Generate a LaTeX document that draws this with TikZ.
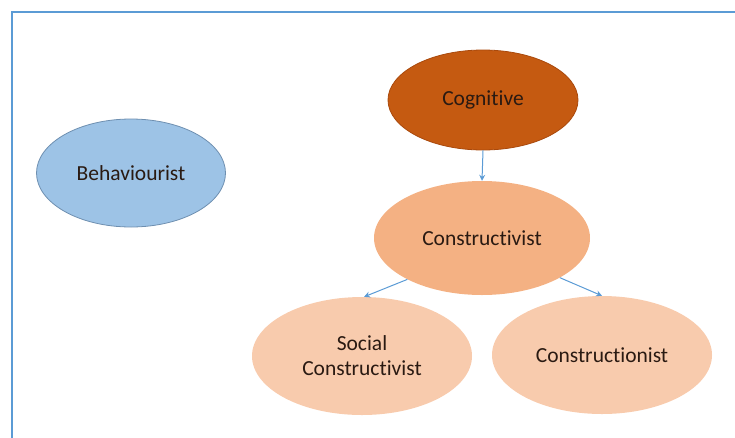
\documentclass[tikz,border=0pt]{standalone}
\usepackage{fontspec}
\setmainfont[Ligatures={NoCommon,NoRequired,NoContextual}]{Carlito}
\usetikzlibrary{shapes.geometric,arrows.meta}
\definecolor{frameblue}{HTML}{5B9BD5}
\definecolor{cogfill}{HTML}{C55A11}
\definecolor{cogline}{HTML}{A9490C}
\definecolor{behfill}{HTML}{9DC3E6}
\definecolor{behline}{HTML}{6E8FB0}
\definecolor{confill}{HTML}{F4B183}
\definecolor{subfill}{HTML}{F8CBAD}
\definecolor{txt}{HTML}{2A1A12}
\tikzset{
  bubble/.style={ellipse, inner sep=0pt, text=txt, font=\fontsize{21.5}{25}\selectfont, align=center},
  link/.style={draw=frameblue, line width=1pt, -{Stealth[length=6pt,width=6pt]}}
}
\begin{document}
\begin{tikzpicture}[x=1pt,y=-1pt]
  \useasboundingbox (0,0) rectangle (735,437);
  % page frame, open to the right and bottom
  \draw[frameblue, line width=2pt] (12,440) -- (12,12) -- (740,12);

  \node[bubble, fill=cogfill, draw=cogline, line width=0.8pt,
        minimum width=190pt, minimum height=100pt] (cog) at (483,100) {Cognitive};
  \node[bubble, fill=behfill, draw=behline, line width=0.8pt,
        minimum width=189pt, minimum height=108pt] (beh) at (131,173) {Behaviourist};
  \node[bubble, fill=confill, minimum width=216pt, minimum height=114pt]
        (con) at (482,238) {Constructivist};
  \node[bubble, fill=subfill, minimum width=220pt, minimum height=118pt]
        (soc) at (362,356) {Social\\Constructivist};
  \node[bubble, fill=subfill, minimum width=220pt, minimum height=118pt]
        (cts) at (602,355) {Constructionist};

  \draw[link] (cog.south) -- (con.north);
  \draw[link] (con.-151) -- (soc.88);
  \draw[link] (con.-27) -- (cts.north);
\end{tikzpicture}
\end{document}
